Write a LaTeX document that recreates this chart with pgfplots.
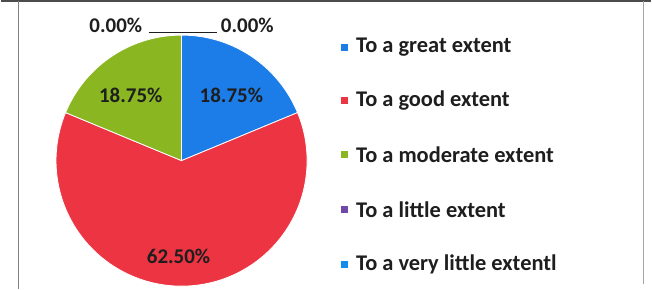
\documentclass[border=0pt]{standalone}
\usepackage{pgfplots}
\pgfplotsset{compat=1.18}
\usepackage{fontspec}
\setmainfont{Carlito}
\definecolor{cgreat}{RGB}{28,124,232}
\definecolor{cgood}{RGB}{236,52,66}
\definecolor{cmod}{RGB}{138,182,34}
\definecolor{clittle}{RGB}{112,72,170}
\definecolor{cvlittle}{RGB}{20,140,235}
\definecolor{ctext}{RGB}{30,30,30}
% data (percent)
\def\vGreat{18.75}
\def\vGood{62.50}
\def\vMod{18.75}
\def\vLittle{0.00}
\def\vVLittle{0.00}
\pgfmathsetmacro{\aA}{90}
\pgfmathsetmacro{\aB}{\aA-3.6*\vGreat}
\pgfmathsetmacro{\aC}{\aB-3.6*\vGood}
\pgfmathsetmacro{\aD}{\aC-3.6*\vMod}
\def\cx{181}
\def\cy{129}
\def\rr{126}
\newcommand{\legitem}[3]{%
  \node[fill=#2, minimum size=7pt, inner sep=0pt] at (axis cs:345,#1) {};
  \node[anchor=west, ctext, inner sep=0pt, font=\bfseries\fontsize{22.5}{26}\selectfont] at (axis cs:356,#1) {#3};}
\begin{document}
\begin{tikzpicture}
\begin{axis}[
  width=652pt, height=290pt, scale only axis,
  xmin=0, xmax=652, ymin=0, ymax=290,
  hide axis, clip=false,
]
% frame
\draw[gray!60!black, line width=2.5pt] (axis cs:0,289) -- (axis cs:652,289);
\draw[gray, line width=0.8pt] (axis cs:17,289) -- (axis cs:17,0);
\draw[gray!70, line width=0.8pt] (axis cs:645,289) -- (axis cs:645,5);
% wedges
\addplot[fill=cgreat, draw=white, line width=0.8pt, domain=\aB:\aA, samples=60, variable=\t]
  ({\cx+\rr*cos(t)},{\cy+\rr*sin(t)}) -- (axis cs:\cx,\cy) -- cycle;
\addplot[fill=cgood, draw=white, line width=0.8pt, domain=\aC:\aB, samples=120, variable=\t]
  ({\cx+\rr*cos(t)},{\cy+\rr*sin(t)}) -- (axis cs:\cx,\cy) -- cycle;
\addplot[fill=cmod, draw=white, line width=0.8pt, domain=\aD:\aC, samples=60, variable=\t]
  ({\cx+\rr*cos(t)},{\cy+\rr*sin(t)}) -- (axis cs:\cx,\cy) -- cycle;
% labels
\node[ctext, font=\bfseries\fontsize{21}{24}\selectfont] at (axis cs:115,265) {0.00\%};
\node[ctext, font=\bfseries\fontsize{21}{24}\selectfont] at (axis cs:247,265) {0.00\%};
\draw[ctext, line width=0.9pt] (axis cs:148,258) -- (axis cs:217,258);
\node[ctext, font=\bfseries\fontsize{21}{24}\selectfont] at (axis cs:130,195) {18.75\%};
\node[ctext, font=\bfseries\fontsize{21}{24}\selectfont] at (axis cs:231,195) {18.75\%};
\node[ctext, font=\bfseries\fontsize{21}{24}\selectfont] at (axis cs:178,33) {62.50\%};
% legend
\legitem{243}{cgreat}{To a great extent}
\legitem{189}{cgood}{To a good extent}
\legitem{135}{cmod}{To a moderate extent}
\legitem{80}{clittle}{To a little extent}
\legitem{25}{cvlittle}{To a very little extentl}
\end{axis}
\end{tikzpicture}
\end{document}
